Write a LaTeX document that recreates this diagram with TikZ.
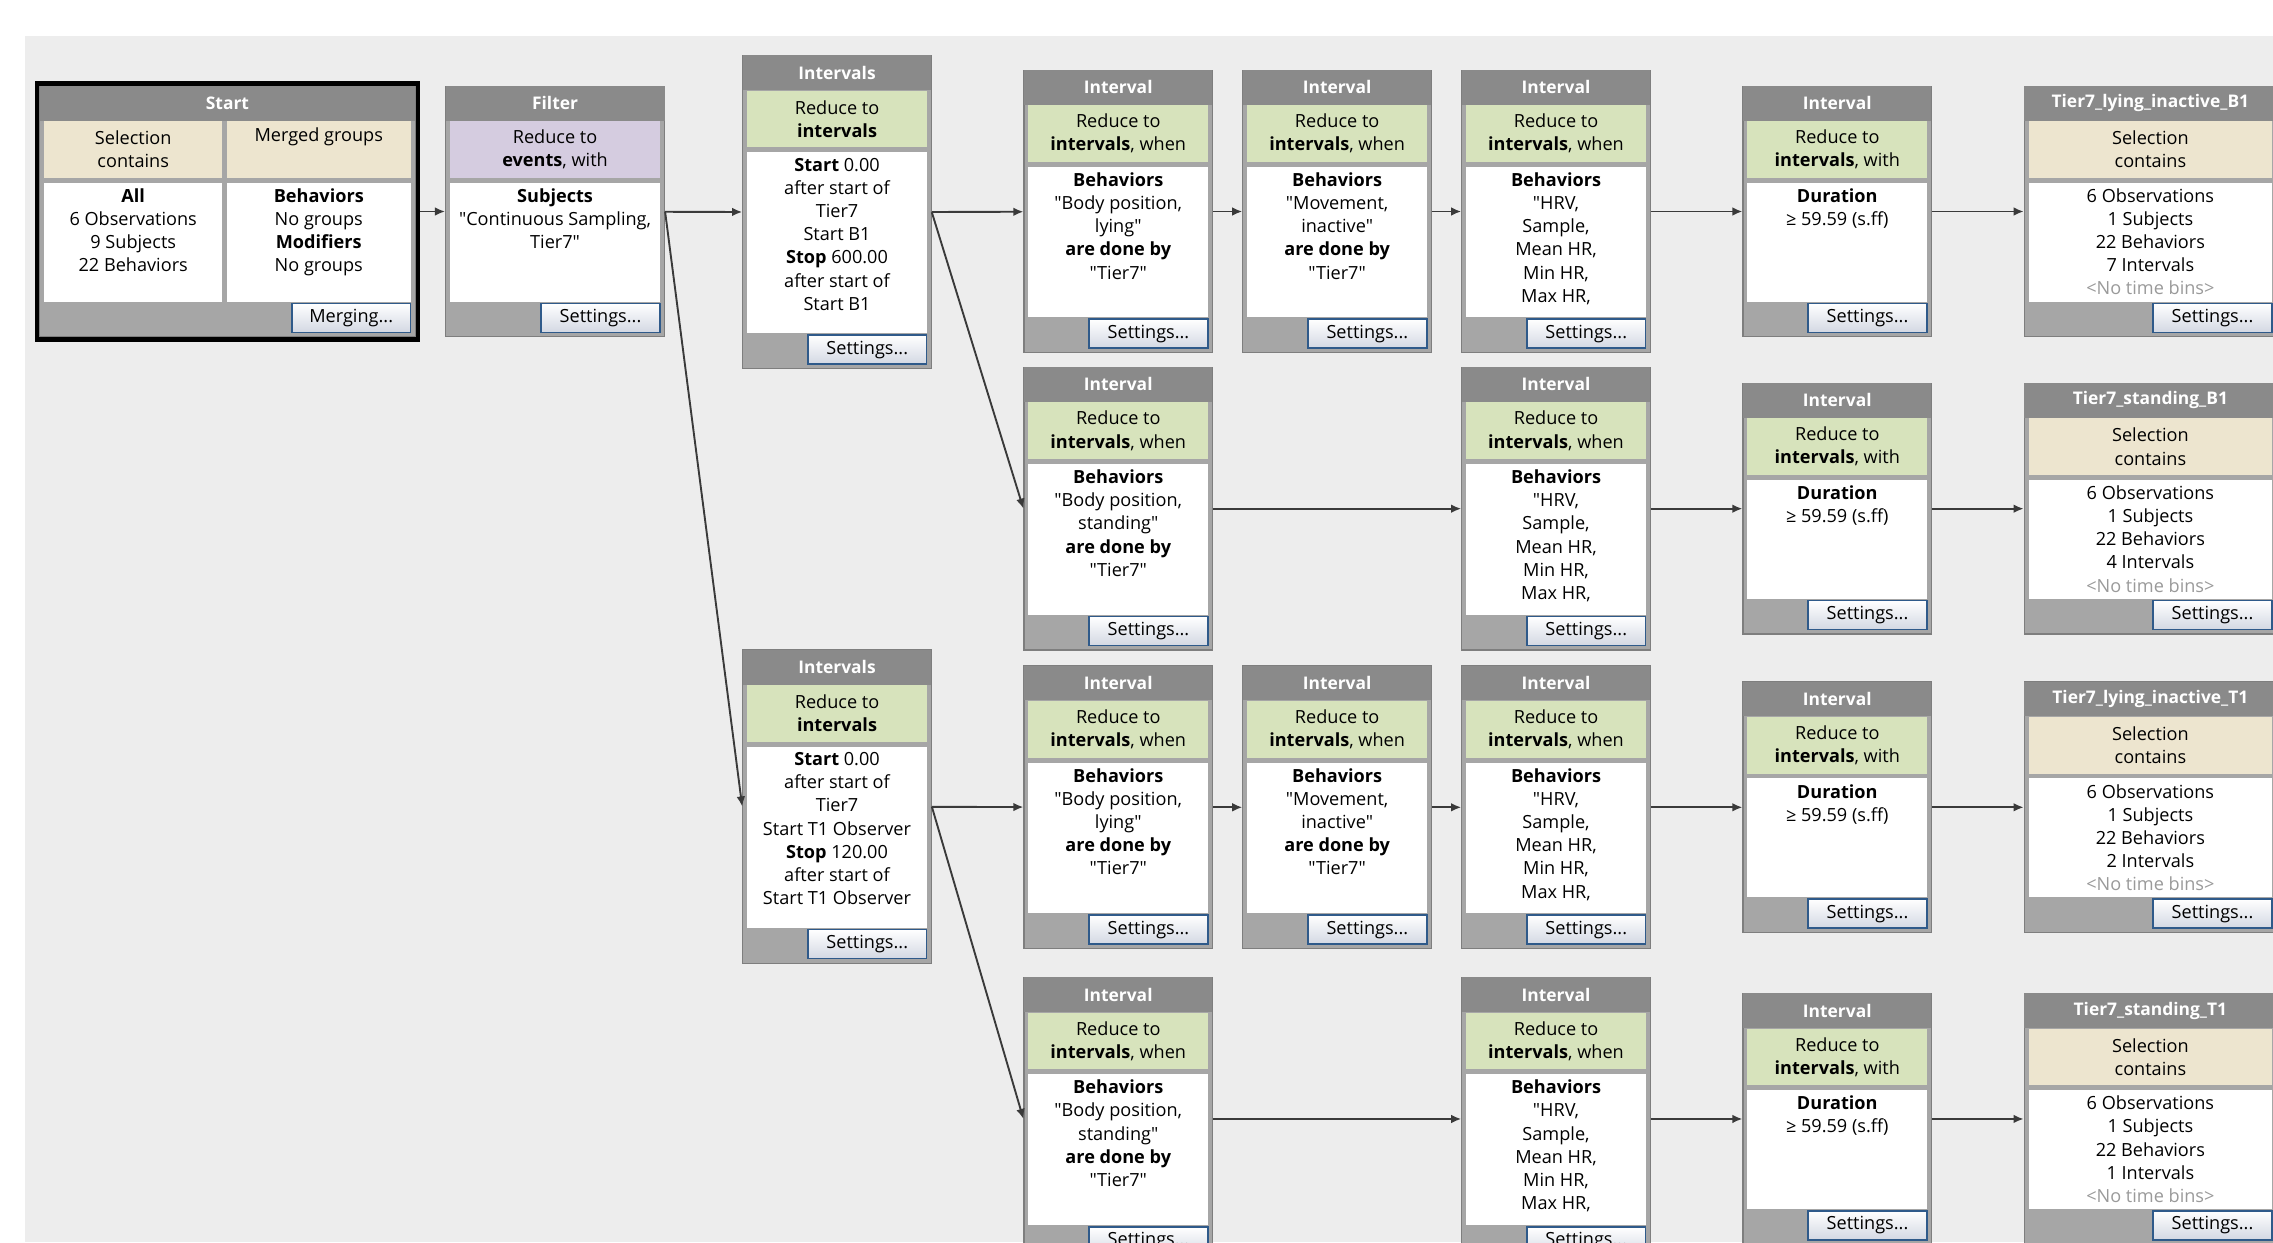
\documentclass[tikz,border=0pt]{standalone}
\usepackage{fontspec}
\setmainfont{Open Sans}[Ligatures=TeXOff]
\usetikzlibrary{positioning, arrows.meta, shapes}

\definecolor{bggrey}{HTML}{EDEDED}
\definecolor{titlegrey}{HTML}{8A8A8A}
\definecolor{framegrey}{HTML}{A6A6A6}
\definecolor{edgegrey}{HTML}{7E7E7E}
\definecolor{selbeige}{HTML}{EDE5CF}
\definecolor{redgreen}{HTML}{D7E3BC}
\definecolor{evpurple}{HTML}{D5CCE0}
\definecolor{btnblue}{HTML}{2F5A8A}
\definecolor{btngrey}{HTML}{D3D8E3}
\definecolor{flowgrey}{HTML}{3A3A3A}
\definecolor{binsgrey}{HTML}{9A9A9A}

\tikzset{
  boxframe/.style={draw=edgegrey, fill=framegrey, line width=0.8pt, inner sep=0pt, anchor=north west},
  titleband/.style={fill=titlegrey, inner sep=0pt, anchor=north},
  titletext/.style={text=white, font=\fontsize{12}{14}\selectfont\bfseries},
  headcell/.style={inner sep=0pt, anchor=north, align=center, font=\fontsize{12.5}{16}\selectfont},
  bodycell/.style={fill=white, inner sep=0pt, anchor=north},
  bodytext/.style={inner sep=0pt, anchor=north, align=center, font=\fontsize{12.5}{16}\selectfont},
  btn/.style={draw=btnblue, line width=1.1pt, top color=white, bottom color=btngrey, minimum width=82pt, minimum height=20pt, inner sep=0pt, anchor=south east, font=\fontsize{12.5}{14}\selectfont},
  flow/.style={draw=flowgrey, line width=1.3pt, -{Latex[length=7pt,width=6pt]}},
}

% name, x, y, width, height, title, header colour, header, body
\newcommand{\opbox}[9]{%
  \node[boxframe, minimum width=#4pt, minimum height=#5pt] (#1) at (#2,#3) {};
  \node[titleband, minimum width=#4pt, minimum height=24pt] (#1-t) at (#1.north) {};
  \node[titletext] at (#1-t) {#6};
  \node[headcell, fill=#7, minimum width=#4pt-6pt, minimum height=39pt] (#1-h) at (#1-t.south) {#8};
  \node[bodycell, minimum width=#4pt-6pt, minimum height=#5pt-91pt] (#1-b) at ([yshift=-3pt]#1-h.south) {};
  \node[bodytext] at ([yshift=-4pt]#1-b.north) {#9};
  \node[btn] (#1-s) at ([xshift=-3pt,yshift=3pt]#1.south east) {Settings...};
}

\newcommand{\intervalhead}{Reduce to\\\textbf{intervals}, when}
\newcommand{\durhead}{Reduce to\\\textbf{intervals}, with}
\newcommand{\selhead}{Selection\\contains}
\newcommand{\lyingbody}{\textbf{Behaviors}\\"Body position,\\lying"\\\textbf{are done by}\\"Tier7"}
\newcommand{\standbody}{\textbf{Behaviors}\\"Body position,\\standing"\\\textbf{are done by}\\"Tier7"}
\newcommand{\movebody}{\textbf{Behaviors}\\"Movement,\\inactive"\\\textbf{are done by}\\"Tier7"}
\newcommand{\hrbody}{\textbf{Behaviors}\\"HRV,\\Sample,\\Mean HR,\\Min HR,\\Max HR,}
\newcommand{\durbody}{\textbf{Duration}\\≥ 59.59 (s.ff)}
\newcommand{\resbody}[1]{6 Observations\\1 Subjects\\22 Behaviors\\#1 Intervals\\\textcolor{binsgrey}{<No time bins>}}

\begin{document}
\begin{tikzpicture}[x=1pt, y=-1pt]
    \useasboundingbox (0,0) rectangle (1568,857);
    \fill[white] (0,0) rectangle (1568,857);
    \fill[bggrey] (17,25) rectangle (1568,857);

    % start
    \node[boxframe, minimum width=259pt, minimum height=173pt] (start) at (27,59) {};
    \node[titleband, minimum width=259pt, minimum height=24pt] (start-t) at (start.north) {};
    \node[titletext] at (start-t) {Start};
    \node[headcell, fill=selbeige, minimum width=123pt, minimum height=39pt, anchor=north west] (start-h1) at ([xshift=3pt]start-t.south west) {Selection\\contains};
    \node[headcell, fill=selbeige, minimum width=127pt, minimum height=39pt, anchor=north east] (start-h2) at ([xshift=-3pt]start-t.south east) {Merged groups\\\strut};
    \node[bodycell, minimum width=123pt, minimum height=82pt] (start-b1) at ([yshift=-3pt]start-h1.south) {};
    \node[bodycell, minimum width=127pt, minimum height=82pt] (start-b2) at ([yshift=-3pt]start-h2.south) {};
    \node[bodytext] at ([yshift=-4pt]start-b1.north) {\textbf{All}\\6 Observations\\9 Subjects\\22 Behaviors};
    \node[bodytext] at ([yshift=-4pt]start-b2.north) {\textbf{Behaviors}\\No groups\\\textbf{Modifiers}\\No groups};
    \node[btn] (start-s) at ([xshift=-3pt,yshift=3pt]start.south east) {Merging...};
    \draw[line width=3pt] ([shift={(-1.5pt,1.5pt)}]start.north west) rectangle ([shift={(1.5pt,-1.5pt)}]start.south east);

    \opbox{filter}{307}{59}{151}{173}{Filter}{evpurple}{Reduce to\\\textbf{events}, with}{\textbf{Subjects}\\"Continuous Sampling,\\Tier7"}
    \opbox{intB1}{512}{38}{130}{216}{Intervals}{redgreen}{Reduce to\\\textbf{intervals}}{\textbf{Start} 0.00\\after start of\\Tier7\\Start B1\\\textbf{Stop} 600.00\\after start of\\Start B1}
    \opbox{intT1}{512}{448}{130}{216}{Intervals}{redgreen}{Reduce to\\\textbf{intervals}}{\textbf{Start} 0.00\\after start of\\Tier7\\Start T1 Observer\\\textbf{Stop} 120.00\\after start of\\Start T1 Observer}

    % lying B1
    \opbox{lyB1body}{706}{48}{130}{195}{Interval}{redgreen}{\intervalhead}{\lyingbody}
    \opbox{lyB1move}{857}{48}{130}{195}{Interval}{redgreen}{\intervalhead}{\movebody}
    \opbox{lyB1hr}{1008}{48}{130}{195}{Interval}{redgreen}{\intervalhead}{\hrbody}
    \opbox{lyB1dur}{1202}{59}{130}{173}{Interval}{redgreen}{\durhead}{\durbody}
    \opbox{lyB1res}{1396}{59}{174}{173}{Tier7\_lying\_inactive\_B1}{selbeige}{\selhead}{\resbody{7}}

    % standing B1
    \opbox{stB1body}{706}{253}{130}{195}{Interval}{redgreen}{\intervalhead}{\standbody}
    \opbox{stB1hr}{1008}{253}{130}{195}{Interval}{redgreen}{\intervalhead}{\hrbody}
    \opbox{stB1dur}{1202}{264}{130}{173}{Interval}{redgreen}{\durhead}{\durbody}
    \opbox{stB1res}{1396}{264}{174}{173}{Tier7\_standing\_B1}{selbeige}{\selhead}{\resbody{4}}

    % lying T1
    \opbox{lyT1body}{706}{459}{130}{195}{Interval}{redgreen}{\intervalhead}{\lyingbody}
    \opbox{lyT1move}{857}{459}{130}{195}{Interval}{redgreen}{\intervalhead}{\movebody}
    \opbox{lyT1hr}{1008}{459}{130}{195}{Interval}{redgreen}{\intervalhead}{\hrbody}
    \opbox{lyT1dur}{1202}{470}{130}{173}{Interval}{redgreen}{\durhead}{\durbody}
    \opbox{lyT1res}{1396}{470}{174}{173}{Tier7\_lying\_inactive\_T1}{selbeige}{\selhead}{\resbody{2}}

    % standing T1
    \opbox{stT1body}{706}{674}{130}{195}{Interval}{redgreen}{\intervalhead}{\standbody}
    \opbox{stT1hr}{1008}{674}{130}{195}{Interval}{redgreen}{\intervalhead}{\hrbody}
    \opbox{stT1dur}{1202}{685}{130}{173}{Interval}{redgreen}{\durhead}{\durbody}
    \opbox{stT1res}{1396}{685}{174}{173}{Tier7\_standing\_T1}{selbeige}{\selhead}{\resbody{1}}

    \draw[flow, shorten <=3pt] (start) -- (filter);
    \draw[flow] (filter) -- (intB1);
    \draw[flow] (filter.east) -- (intT1.west);
    \draw[flow] (intB1) -- (lyB1body);
    \draw[flow] (intB1.east) -- (stB1body.west);
    \draw[flow] (intT1) -- (lyT1body);
    \draw[flow] (intT1.east) -- (stT1body.west);
    \draw[flow] (lyB1body) -- (lyB1move);
    \draw[flow] (lyB1move) -- (lyB1hr);
    \draw[flow] (lyB1hr) -- (lyB1dur);
    \draw[flow] (lyB1dur) -- (lyB1res);
    \draw[flow] (stB1body) -- (stB1hr);
    \draw[flow] (stB1hr) -- (stB1dur);
    \draw[flow] (stB1dur) -- (stB1res);
    \draw[flow] (lyT1body) -- (lyT1move);
    \draw[flow] (lyT1move) -- (lyT1hr);
    \draw[flow] (lyT1hr) -- (lyT1dur);
    \draw[flow] (lyT1dur) -- (lyT1res);
    \draw[flow] (stT1body) -- (stT1hr);
    \draw[flow] (stT1hr) -- (stT1dur);
    \draw[flow] (stT1dur) -- (stT1res);
\end{tikzpicture}
\end{document}
